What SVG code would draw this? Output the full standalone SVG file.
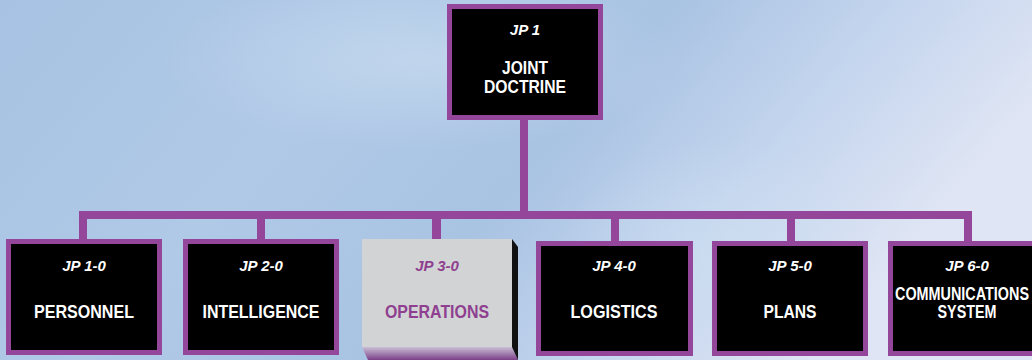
<svg xmlns="http://www.w3.org/2000/svg" width="1032" height="360" viewBox="0 0 1032 360">
<defs>
<linearGradient id="bg" x1="0" y1="0" x2="1" y2="0.3">
<stop offset="0" stop-color="#a7c2e2"/>
<stop offset="0.35" stop-color="#b0c9e7"/>
<stop offset="0.6" stop-color="#a9c3e3"/>
<stop offset="0.8" stop-color="#c4d5ee"/>
<stop offset="1" stop-color="#dfe5f4"/>
</linearGradient>
<radialGradient id="glow" cx="0.5" cy="0.5" r="0.5">
<stop offset="0" stop-color="#cddff1" stop-opacity="0.6"/>
<stop offset="1" stop-color="#cddff1" stop-opacity="0"/>
</radialGradient>
<linearGradient id="base3d" x1="0" y1="0" x2="0" y2="1">
<stop offset="0" stop-color="#c9bfd6"/>
<stop offset="1" stop-color="#7b3f88"/>
</linearGradient>
<style>
.frame{fill:#000;stroke:#94479a;stroke-width:5}
.jp{font-family:"Liberation Sans",Arial,sans-serif;font-weight:bold;font-style:italic;font-size:15px;fill:#fff;text-anchor:middle}
.lbl{font-family:"Liberation Sans",Arial,sans-serif;font-weight:bold;font-size:18px;fill:#fff;text-anchor:middle}
.hl{fill:#8f3f8f}
.conn{fill:#94479a}
</style>
</defs>
<rect width="1032" height="360" fill="url(#bg)"/>
<ellipse cx="420" cy="60" rx="260" ry="90" fill="url(#glow)"/>
<ellipse cx="720" cy="250" rx="160" ry="110" fill="url(#glow)"/>

<g id="connectors">
<rect class="conn" x="520" y="118" width="8" height="97"/>
<rect class="conn" x="79" y="211" width="893" height="8"/>
<rect class="conn" x="79" y="211" width="8" height="30"/>
<rect class="conn" x="257" y="211" width="8" height="30"/>
<rect class="conn" x="432" y="211" width="9" height="30"/>
<rect class="conn" x="611" y="211" width="8" height="30"/>
<rect class="conn" x="787" y="211" width="8" height="30"/>
<rect class="conn" x="964" y="211" width="8" height="30"/>
</g>

<g id="jp1">
<rect class="frame" x="449.5" y="6.5" width="151" height="111"/>
<text class="jp" x="525" y="35">JP 1</text>
<text class="lbl" x="525" y="74" textLength="46" lengthAdjust="spacingAndGlyphs">JOINT</text>
<text class="lbl" x="525" y="93" textLength="82" lengthAdjust="spacingAndGlyphs">DOCTRINE</text>
</g>

<g id="jp1-0">
<rect class="frame" x="8.5" y="241.5" width="151" height="111"/>
<text class="jp" x="84" y="271">JP 1-0</text>
<text class="lbl" x="84" y="318" textLength="100" lengthAdjust="spacingAndGlyphs">PERSONNEL</text>
</g>

<g id="jp2-0">
<rect class="frame" x="185.5" y="241.5" width="151" height="111"/>
<text class="jp" x="261" y="271">JP 2-0</text>
<text class="lbl" x="261" y="318" textLength="117" lengthAdjust="spacingAndGlyphs">INTELLIGENCE</text>
</g>

<g id="jp3-0">
<polygon points="362,347 512,347 518,360 368,360" fill="url(#base3d)"/>
<polygon points="512,239 518,247 518,360 512,347" fill="#111"/>
<rect x="362" y="239" width="150" height="108" fill="#d2d3d5"/>
<text class="jp hl" x="437" y="271">JP 3-0</text>
<text class="lbl hl" x="437" y="318" textLength="104" lengthAdjust="spacingAndGlyphs">OPERATIONS</text>
</g>

<g id="jp4-0">
<rect class="frame" x="538.5" y="243.5" width="152" height="110"/>
<text class="jp" x="614" y="271">JP 4-0</text>
<text class="lbl" x="614" y="318" textLength="87" lengthAdjust="spacingAndGlyphs">LOGISTICS</text>
</g>

<g id="jp5-0">
<rect class="frame" x="714.5" y="243.5" width="151" height="110"/>
<text class="jp" x="790" y="271">JP 5-0</text>
<text class="lbl" x="790" y="318" textLength="53" lengthAdjust="spacingAndGlyphs">PLANS</text>
</g>

<g id="jp6-0">
<rect class="frame" x="890.5" y="243.5" width="152" height="110"/>
<text class="jp" x="967" y="271">JP 6-0</text>
<text class="lbl" x="962" y="300" textLength="134" lengthAdjust="spacingAndGlyphs">COMMUNICATIONS</text>
<text class="lbl" x="967" y="318" textLength="59" lengthAdjust="spacingAndGlyphs">SYSTEM</text>
</g>
</svg>
